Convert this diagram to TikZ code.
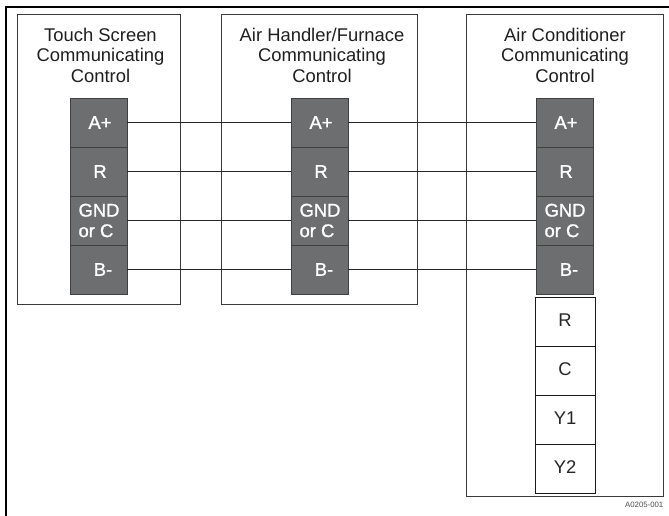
\documentclass[tikz,border=0pt]{standalone}
\usepackage{fontspec}
\setmainfont{Liberation Sans}
\newfontfamily\termfont[FakeBold=1.2]{Liberation Sans}
\definecolor{termfill}{HTML}{6D6E70}
\definecolor{boxline}{HTML}{3A3A3A}
\tikzset{
  x=1pt,y=-1pt,
  ctrlbox/.style={draw=boxline,line width=0.9pt,fill=white,anchor=north west,inner sep=0pt,outer sep=0pt},
  title/.style={align=center,font=\fontsize{18.4}{20.8}\selectfont,text=black!88,inner sep=0pt,anchor=north},
  term/.style={draw=black!75,fill=termfill,line width=0.9pt,minimum width=57pt,minimum height=49pt,inner sep=0pt,outer sep=0pt,text=white,font=\termfont\fontsize{18.4}{20.5}\selectfont,align=left},
  lowterm/.style={draw=black!90,fill=white,line width=0.9pt,minimum width=60pt,minimum height=49pt,inner sep=0pt,outer sep=0pt,text=black!85,font=\fontsize{18.4}{19}\selectfont},
  wire/.style={draw=black!85,line width=0.8pt},
  frameline/.style={draw=black,line width=2.4pt}
}
\newcommand{\termcol}[2]{%
  \node[term] (#1a) at (#2,122.5) {\hspace*{3pt}A+};
  \node[term] (#1r) at (#2,171.5) {\hspace*{3pt}R};
  \node[term] (#1g) at (#2,220.5) {\hspace*{1pt}GND\\\hspace*{1pt}or C};
  \node[term] (#1b) at (#2,269.5) {\hspace*{9pt}B-};
}
\newcommand{\lowtext}[1]{\raisebox{2.5pt}{#1}}
\begin{document}
\begin{tikzpicture}
\useasboundingbox (0,0) rectangle (669,516);
\fill[white] (0,0) rectangle (669,516);
\draw[frameline] (5.8,516) -- (5.8,7.3) -- (669,7.3);
\node[ctrlbox,minimum width=163pt,minimum height=290pt] (box1) at (17,14) {};
\node[ctrlbox,minimum width=196pt,minimum height=290pt] (box2) at (221,14) {};
\node[ctrlbox,minimum width=197pt,minimum height=482.5pt] (box3) at (466,14) {};
\node[title] (t1) at (100.5,27.5) {Touch Screen\\Communicating\\Control};
\node[title] (t2) at (322,27.5) {Air Handler/Furnace\\Communicating\\Control};
\node[title] (t3) at (565,27.5) {Air Conditioner\\Communicating\\Control};
\termcol{p}{98.5}
\termcol{q}{319.5}
\termcol{s}{564.5}
\foreach \n in {a,r,g,b}{
  \draw[wire] (p\n) -- (q\n);
  \draw[wire] (q\n) -- (s\n);
}
\node[lowterm] (l1) at (565,321.5) {\lowtext{R}};
\node[lowterm] (l2) at (565,370.5) {\lowtext{C}};
\node[lowterm] (l3) at (565,419.5) {\lowtext{Y1}};
\node[lowterm] (l4) at (565,468.5) {\lowtext{Y2}};
\node[anchor=east,inner sep=0pt,font=\fontsize{7.8}{8}\selectfont,text=black!70] (code) at (663.5,504.5) {A0205-001};
\end{tikzpicture}
\end{document}
